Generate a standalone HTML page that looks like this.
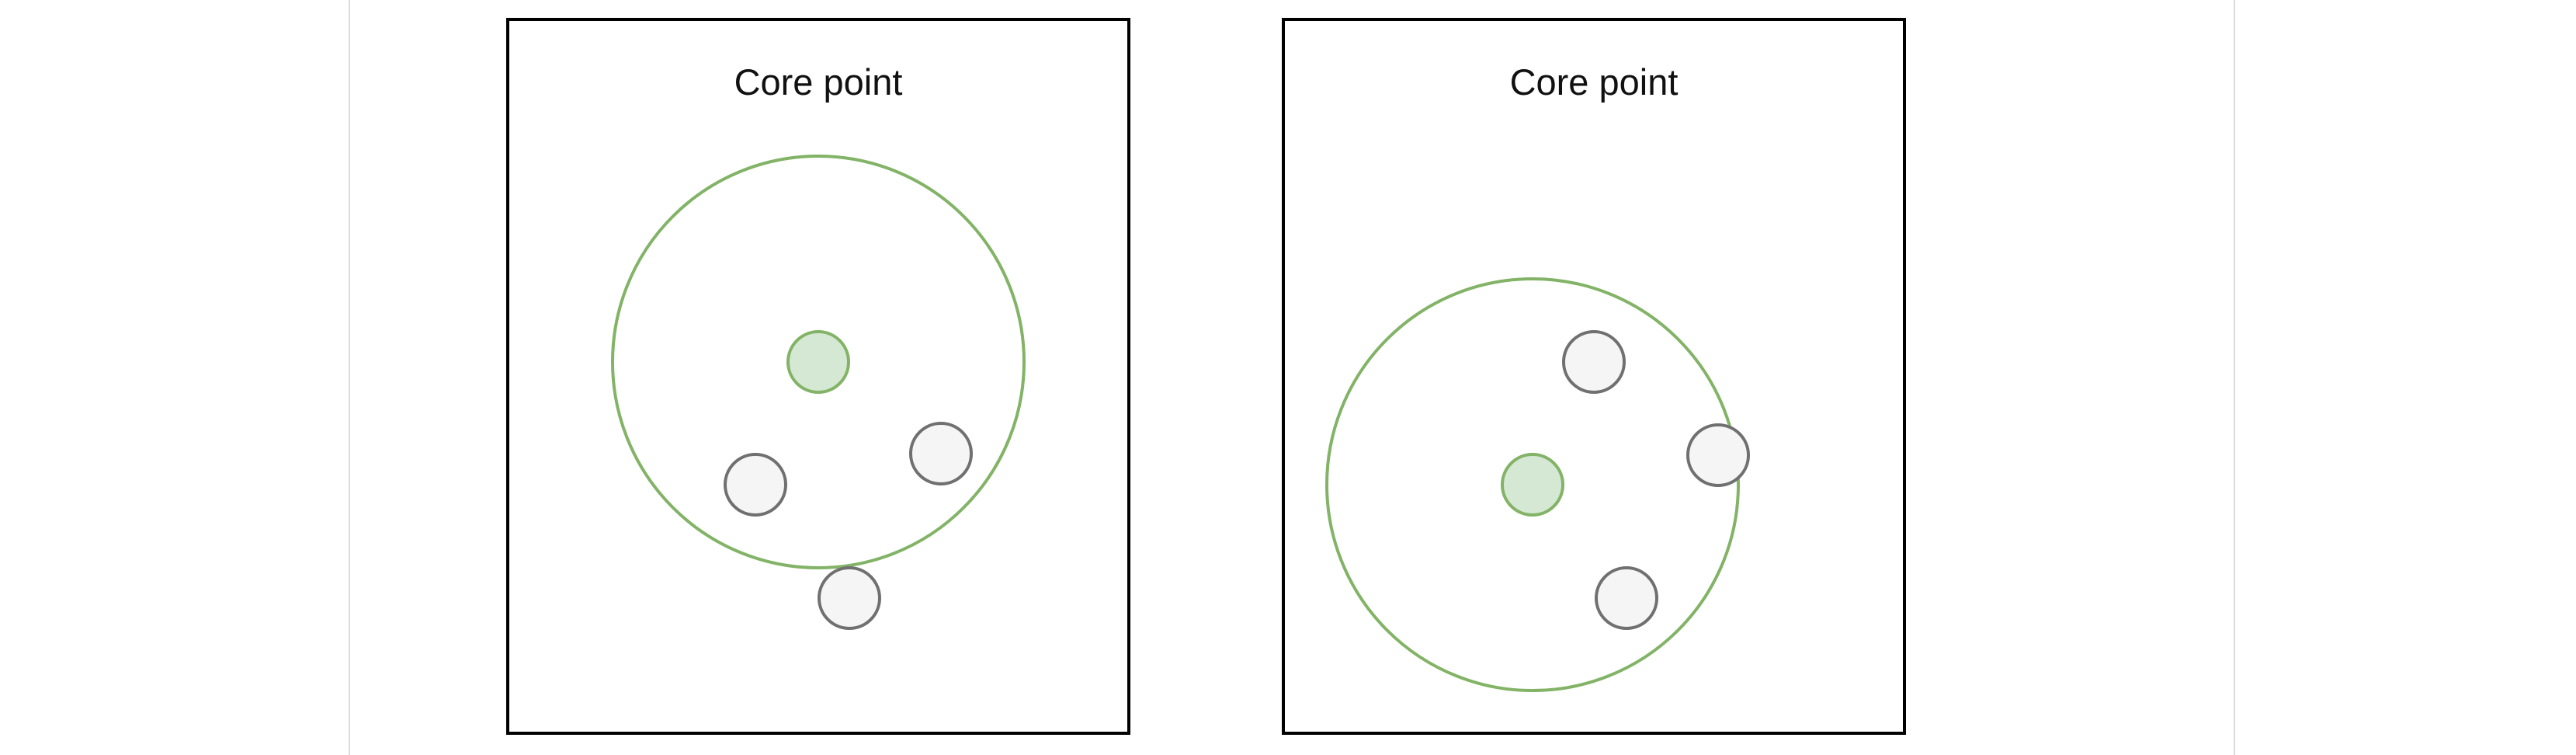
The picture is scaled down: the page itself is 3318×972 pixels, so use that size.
<!DOCTYPE html>
<html><head><meta charset="utf-8"><style>
html,body{margin:0;padding:0;background:#fff;width:3318px;height:972px;overflow:hidden}
svg{display:block}
</style></head><body>
<svg id="c" width="3318" height="972" xmlns="http://www.w3.org/2000/svg">
<line x1="450" y1="0" x2="450" y2="972" stroke="#dcdcdc" stroke-width="2"/>
<line x1="2878" y1="0" x2="2878" y2="972" stroke="#dcdcdc" stroke-width="2"/>
</svg>
<script>
const panels = ["left-panel","right-panel"];
const panelX = [654, 1653];
const panelTitles = ["Core point","Core point"];
const coreX = [400, 321];
const coreY = [441, 599];
const neighborX = [[319, 558, 440],[400, 560, 442]];
const neighborY = [[599, 559, 745],[441, 561, 745]];
const epsRadius = 265;
const svg = document.getElementById('c');
const NS = 'http://www.w3.org/2000/svg';
function mk(t, a){const e=document.createElementNS(NS,t);for(const k in a)e.setAttribute(k,a[k]);svg.appendChild(e);return e;}
const top0 = 25, pw = 800, ph = 919;
panels.forEach((p,i)=>{
  const x0 = panelX[i];
  const r = mk('rect',{x:x0,y:top0,width:pw,height:ph,fill:'none',stroke:'#000','stroke-width':4});
  
  
  const t = mk('text',{x:x0+pw/2,y:122,'text-anchor':'middle','font-family':'"Liberation Sans", sans-serif','font-size':47,fill:'#111'});
  t.textContent = panelTitles[i];
  
  
  const big = mk('circle',{cx:x0+coreX[i],cy:top0+coreY[i],r:epsRadius,fill:'none',stroke:'#82b366','stroke-width':4});
  
  
  const c = mk('circle',{cx:x0+coreX[i],cy:top0+coreY[i],r:39,fill:'#d5e8d4',stroke:'#82b366','stroke-width':4});
  
  
  neighborX[i].forEach((nx,j)=>{
    const n = mk('circle',{cx:x0+nx,cy:top0+neighborY[i][j],r:39,fill:'#f5f5f5',stroke:'#707070','stroke-width':4});
    
    
  });
});
</script>
</body></html>
